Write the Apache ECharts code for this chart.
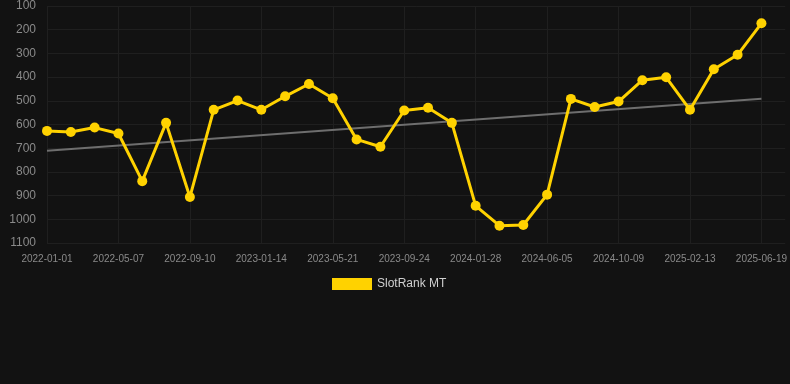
<!DOCTYPE html>
<html>
<head>
<meta charset="utf-8">
<script src="https://cdn.jsdelivr.net/npm/echarts@6/dist/echarts.min.js"></script>
<style>
  html, body { margin: 0; padding: 0; background: #121212; }
  #chart { width: 790px; height: 384px; }
</style>
</head>
<body>
<div id="chart"></div>
<script>
// dates of the rank snapshots
const dates = [
  '2022-01-01', '2022-02-12', '2022-03-26', '2022-05-07', '2022-06-18', '2022-07-30',
  '2022-09-10', '2022-10-22', '2022-12-03', '2023-01-14', '2023-02-25', '2023-04-08',
  '2023-05-21', '2023-07-02', '2023-08-13', '2023-09-24', '2023-11-05', '2023-12-17',
  '2024-01-28', '2024-03-10', '2024-04-22', '2024-06-05', '2024-07-17', '2024-08-28',
  '2024-10-09', '2024-11-20', '2025-01-01', '2025-02-13', '2025-03-27', '2025-05-08',
  '2025-06-19'
];
// SlotRank MT (lower is better, axis is inverted)
const rankValues = [
  627, 632, 613, 638, 839, 593,
  906, 538, 499, 538, 481, 429,
  489, 663, 694, 541, 529, 593,
  943, 1027, 1024, 896, 492, 526,
  503, 413, 401, 538, 367, 306,
  173
];
// trend line end points
const trendStart = 711;
const trendEnd = 491;
const trendValues = dates.map((d, i) => (i === 0 ? trendStart : i === dates.length - 1 ? trendEnd : null));

const yTicks = { min: 100, max: 1100, interval: 100 };

const myChart = echarts.init(document.getElementById('chart'));
const option = {
  backgroundColor: '#121212',
  animation: false,
  grid: {
    left: 47,
    right: 4,
    top: 6,
    bottom: 141
  },
  legend: {
    data: [{ name: 'SlotRank MT', icon: 'rect' }],
    left: 327,
    top: 273,
    itemWidth: 40,
    itemHeight: 12,
    itemGap: 10,
    textStyle: { color: '#d0d0d0', fontSize: 12, fontFamily: 'Liberation Sans, Arial, sans-serif' }
  },
  xAxis: {
    type: 'category',
    boundaryGap: false,
    data: [...dates, ''],
    axisLine: { show: false },
    axisTick: { show: false },
    axisLabel: {
      interval: 2,
      color: '#8a8a8a',
      fontSize: 10,
      margin: 11,
      fontFamily: 'Liberation Sans, Arial, sans-serif'
    },
    splitLine: {
      show: true,
      interval: 2,
      lineStyle: { color: '#1f1f1f', width: 1 }
    }
  },
  yAxis: {
    type: 'value',
    inverse: true,
    min: yTicks.min,
    max: yTicks.max,
    interval: yTicks.interval,
    axisLine: { show: false },
    axisTick: { show: false },
    axisLabel: {
      color: '#8a8a8a',
      fontSize: 12,
      margin: 11,
      fontFamily: 'Liberation Sans, Arial, sans-serif',
      formatter: (v) => String(v)
    },
    splitLine: { lineStyle: { color: '#1f1f1f', width: 1 } }
  },
  series: [
    {
      name: 'trend',
      type: 'line',
      data: trendValues,
      connectNulls: true,
      showSymbol: false,
      symbol: 'none',
      lineStyle: { color: '#6e6e6e', width: 2 },
      z: 1,
      silent: true
    },
    {
      name: 'SlotRank MT',
      type: 'line',
      data: rankValues,
      symbol: 'circle',
      symbolSize: 10,
      color: '#FFD200',
      lineStyle: { color: '#FFD200', width: 3 },
      itemStyle: { color: '#FFD200' },
      z: 3
    }
  ]
};
myChart.setOption(option);
</script>
</body>
</html>
